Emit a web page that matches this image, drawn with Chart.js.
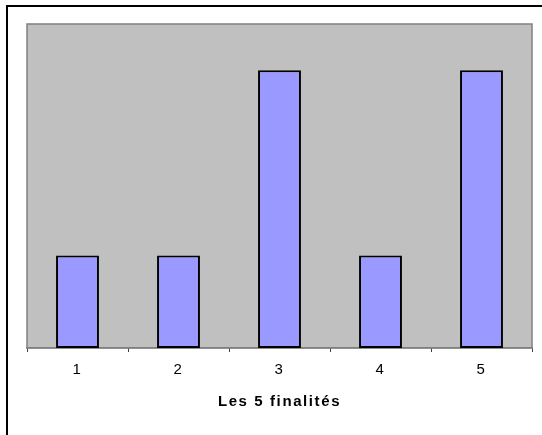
<!DOCTYPE html>
<html>
<head>
<meta charset="utf-8">
<script src="https://cdn.jsdelivr.net/npm/chart.js@4"></script>
<style>
  html, body { margin: 0; padding: 0; background: #fff; }
  #wrap { width: 542px; height: 435px; position: relative; }
</style>
</head>
<body>
<div id="wrap"><canvas id="myChart"></canvas></div>
<script>
const categories = ['1', '2', '3', '4', '5'];
const values = [1, 1, 3, 1, 3];
const axisTitle = 'Les 5 finalités';
const yMax = 3.5;

// fond gris de la zone de tracé + cadre extérieur
const plotBackground = {
    id: 'plotBackground',
    beforeDraw(chart) {
        const ctx = chart.ctx;
        const a = chart.chartArea;
        ctx.save();
        ctx.fillStyle = '#000';
        ctx.fillRect(6, 5, 536, 2);
        ctx.fillRect(6, 5, 2, 430);
        ctx.fillStyle = '#c0c0c0';
        ctx.fillRect(a.left, a.top, a.right - a.left, a.bottom - a.top);
        ctx.strokeStyle = '#808080';
        ctx.lineWidth = 1.5;
        ctx.strokeRect(a.left, a.top, a.right - a.left, a.bottom - a.top);
        ctx.restore();
        ctx.letterSpacing = '1.6px';
    }
};

const ctx = document.getElementById('myChart');
const myChart = new Chart(ctx, {
    type: 'bar',
    data: {
        labels: categories,
        datasets: [{
            data: values,
            backgroundColor: '#9999ff',
            borderColor: '#000',
            borderWidth: 2,
            borderSkipped: false,
            barPercentage: 0.5,
            categoryPercentage: 0.85
        }]
    },
    options: {
        responsive: true,
        maintainAspectRatio: false,
        animation: false,
        events: [],
        layout: { padding: { left: 27, right: 10, top: 24, bottom: 0 } },
        plugins: { legend: { display: false }, tooltip: { enabled: false } },
        scales: {
            y: { display: false, min: 0, max: yMax },
            x: {
                afterFit: (scale) => { scale.height = 87; },
                border: { color: '#808080', width: 1.5 },
                grid: { drawOnChartArea: false, tickLength: 4, color: '#404040', offset: true },
                ticks: { color: '#000', padding: 9, font: { family: "'Liberation Sans', Arial", size: 15 } },
                title: {
                    display: true,
                    text: axisTitle,
                    color: '#000',
                    padding: { top: 0, bottom: 24 },
                    font: { family: "'Liberation Sans', Arial", size: 15, weight: 'bold' }
                }
            }
        }
    },
    plugins: [plotBackground]
});
</script>
</body>
</html>
